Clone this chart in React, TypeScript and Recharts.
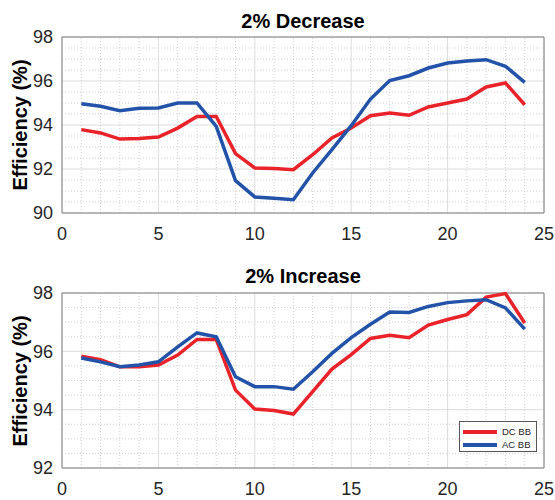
import React from "react";
import {
  CartesianGrid,
  Legend,
  Line,
  LineChart,
  ReferenceLine,
  XAxis,
  YAxis,
} from "recharts";

const hours = [1, 2, 3, 4, 5, 6, 7, 8, 9, 10, 11, 12, 13, 14, 15, 16, 17, 18, 19, 20, 21, 22, 23, 24];

// 2% decrease
const decreaseDC = [93.79, 93.64, 93.36, 93.39, 93.45, 93.86, 94.39, 94.39, 92.7, 92.05, 92.02, 91.97, 92.65, 93.41, 93.86, 94.42, 94.55, 94.44, 94.82, 95.0, 95.18, 95.73, 95.91, 94.92];
const decreaseAC = [94.97, 94.85, 94.65, 94.76, 94.77, 95.0, 95.0, 93.94, 91.47, 90.73, 90.67, 90.6, 91.82, 92.88, 93.97, 95.18, 96.02, 96.24, 96.59, 96.82, 96.91, 96.97, 96.67, 95.94];

// 2% increase
const increaseDC = [95.83, 95.71, 95.47, 95.47, 95.53, 95.87, 96.41, 96.41, 94.67, 94.02, 93.97, 93.85, 94.62, 95.39, 95.89, 96.44, 96.55, 96.47, 96.9, 97.09, 97.26, 97.86, 97.98, 96.97];
const increaseAC = [95.77, 95.64, 95.47, 95.53, 95.64, 96.15, 96.63, 96.5, 95.13, 94.79, 94.79, 94.7, 95.3, 95.93, 96.47, 96.93, 97.35, 97.33, 97.54, 97.67, 97.73, 97.77, 97.49, 96.76];

const xTicks = [0, 5, 10, 15, 20, 25];
const xMinor = [1, 2, 3, 4, 6, 7, 8, 9, 11, 12, 13, 14, 16, 17, 18, 19, 21, 22, 23, 24];
const decTicks = [90, 92, 94, 96, 98];
const decMinor = [90.5, 91, 91.5, 92.5, 93, 93.5, 94.5, 95, 95.5, 96.5, 97, 97.5];
const incTicks = [92, 94, 96, 98];
const incMinor = [92.5, 93, 93.5, 94.5, 95, 95.5, 96.5, 97, 97.5];

const SERIES = [
  { key: "dc", label: "DC BB", color: "#e8232a" },
  { key: "ac", label: "AC BB", color: "#2353a8" },
];

const FONT = "'Liberation Sans', Arial, sans-serif";
const AXIS_GRAY = "#808080";

const toRows = (dc: number[], ac: number[]) =>
  hours.map((h, i) => ({ h, dc: dc[i], ac: ac[i] }));

function LegendBox() {
  return (
    <div
      style={{
        width: 78,
        height: 31,
        border: "1px solid #555",
        background: "#fff",
        fontFamily: FONT,
        fontSize: 9.5,
        color: "#222",
        boxSizing: "border-box",
        padding: "3px 0 0 3px",
      }}
    >
      {SERIES.map((s) => (
        <div key={s.key} style={{ display: "flex", alignItems: "center", height: 13 }}>
          <div style={{ width: 34, height: 4, background: s.color, marginRight: 5 }} />
          <span>{s.label}</span>
        </div>
      ))}
    </div>
  );
}

type PanelProps = {
  top: number;
  title: string;
  titleTop: number;
  data: Array<Record<string, number>>;
  yDomain: [number, number];
  yTicks: number[];
  yMinor: number[];
  marginTop: number;
  xAxisHeight: number;
  showLegend?: boolean;
};

function Panel({
  top,
  title,
  titleTop,
  data,
  yDomain,
  yTicks,
  yMinor,
  marginTop,
  xAxisHeight,
  showLegend = false,
}: PanelProps) {
  const plotCenterY = top + marginTop + (250 - marginTop - xAxisHeight) / 2;
  return (
    <>
      <div
        style={{
          position: "absolute",
          left: 62,
          width: 482,
          top: titleTop,
          textAlign: "center",
          fontFamily: FONT,
          fontWeight: "bold",
          fontSize: 20,
          lineHeight: "20px",
          color: "#000",
        }}
      >
        {title}
      </div>
      <div
        style={{
          position: "absolute",
          left: 20,
          top: plotCenterY,
          transform: "translate(-50%, -50%) rotate(-90deg)",
          whiteSpace: "nowrap",
          fontFamily: FONT,
          fontWeight: "bold",
          fontSize: 20,
          lineHeight: "20px",
          color: "#000",
        }}
      >
        Efficiency (%)
      </div>
      <div style={{ position: "absolute", left: 0, top }}>
        <LineChart
          width={555}
          height={250}
          data={data}
          margin={{ top: marginTop, right: 11, left: 0, bottom: 0 }}
        >
          {xMinor.map((x) => (
            <ReferenceLine key={`x${x}`} x={x} stroke="#cfcfcf" strokeDasharray="1 2" />
          ))}
          {yMinor.map((y) => (
            <ReferenceLine key={`y${y}`} y={y} stroke="#cfcfcf" strokeDasharray="1 2" />
          ))}
          <CartesianGrid stroke="#dcdcdc" />
          <XAxis
            dataKey="h"
            type="number"
            domain={[0, 25]}
            ticks={xTicks}
            height={xAxisHeight}
            tickSize={0}
            tickMargin={14}
            stroke={AXIS_GRAY}
            tick={{ fill: "#262626", fontSize: 18, fontFamily: FONT }}
          />
          <YAxis
            type="number"
            domain={yDomain}
            ticks={yTicks}
            width={62}
            tickSize={0}
            tickMargin={9}
            stroke={AXIS_GRAY}
            tick={{ fill: "#262626", fontSize: 18, fontFamily: FONT }}
          />
          <ReferenceLine x={25} stroke={AXIS_GRAY} />
          <ReferenceLine y={yDomain[1]} stroke={AXIS_GRAY} />
          {SERIES.map((s) => (
            <Line
              key={s.key}
              type="linear"
              dataKey={s.key}
              name={s.label}
              stroke={s.color}
              strokeWidth={3.5}
              dot={false}
              isAnimationActive={false}
            />
          ))}
          {showLegend && (
            <Legend
              layout="horizontal"
              align="center"
              verticalAlign="middle"
              wrapperStyle={{ left: 459, top: 171, width: 78 }}
              content={() => <LegendBox />}
            />
          )}
        </LineChart>
      </div>
    </>
  );
}

export default function App() {
  return (
    <div
      style={{
        position: "absolute",
        left: 0,
        top: 0,
        width: 555,
        height: 500,
        background: "#fff",
      }}
    >
      <Panel
        top={0}
        title="2% Decrease"
        titleTop={11}
        data={toRows(decreaseDC, decreaseAC)}
        yDomain={[90, 98]}
        yTicks={decTicks}
        yMinor={decMinor}
        marginTop={37}
        xAxisHeight={37}
      />
      <Panel
        top={250}
        title="2% Increase"
        titleTop={266}
        data={toRows(increaseDC, increaseAC)}
        yDomain={[92, 98]}
        yTicks={incTicks}
        yMinor={incMinor}
        marginTop={43}
        xAxisHeight={32}
        showLegend
      />
    </div>
  );
}
